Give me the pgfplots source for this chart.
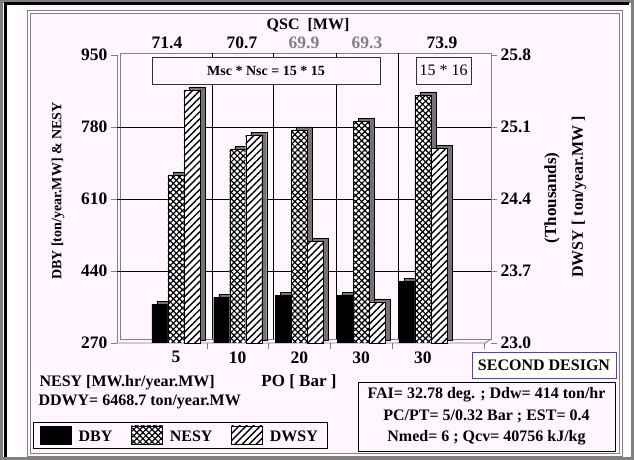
\documentclass[border=0pt]{standalone}
\usepackage{fontspec}
\setmainfont{Liberation Serif}
\usepackage{pgfplots}
\usepackage{pgfplotstable}
\pgfplotsset{compat=1.18}
\usetikzlibrary{patterns,patterns.meta}

\definecolor{panel}{RGB}{255,246,255}
\definecolor{frameg}{RGB}{128,128,128}
\definecolor{sidegray}{RGB}{115,115,115}
\definecolor{blueb}{RGB}{70,70,200}

\pgfplotstableread{
x DBY NESY DWSY
0 362 667 25.46
1 378 727 25.02
2 382 773 23.99
3 382 794 23.40
4 416 856 24.89
}\datatable

\tikzset{
  dbystyle/.style={draw=black, fill=black},
  nesystyle/.style={draw=black, preaction={fill=white}, pattern={Hatch[angle=45,distance=4.3pt,line width=1.2pt]}},
  dwsystyle/.style={draw=black, preaction={fill=white}, pattern={Lines[angle=45,distance=5pt,line width=1.4pt]}},
  sidestyle/.style={draw=black, fill=sidegray, line width=0.4pt},
}
\pgfplotsset{
  legsw/.style={legend image code/.code={\draw[##1] (0pt,-7pt) rectangle (31pt,11pt);}},
}
\newcommand{\bfs}{\fontsize{16}{16}\selectfont\bfseries}
\newcommand{\bft}{\fontsize{17.5}{17.5}\selectfont\bfseries}

\begin{document}
\begin{tikzpicture}[x=1pt,y=1pt]
% background and frames
\fill[white] (0,0) rectangle (634,460);
\fill[panel] (23,2) rectangle (625,455);
\draw[frameg, line width=3pt] (1.5,1.5) rectangle (632.5,458.5);
\draw[black, line width=3pt] (5.5,3) -- (5.5,456.5) -- (629,456.5);
\draw[frameg, line width=0.8pt] (27,4) rectangle (622,450);
\draw[frameg, line width=0.8pt] (30,7) rectangle (619,447);
% back wall, floor and grid
\draw[frameg, line width=0.8pt] (117,117) -- (117,405);
\draw[frameg, line width=0.8pt] (120,121) -- (120,407) -- (491,407) -- (491,121) -- cycle;
\draw[frameg, line width=0.8pt] (117,117) -- (485,117) -- (491,121);
\foreach \yy in {189,261,333} \draw[black, line width=0.6pt] (117,\yy) -- (491,\yy);
\foreach \xx in {212,273,336,398} \draw[black, line width=0.6pt] (\xx,121) -- (\xx,407);
% boxes inside plot
\draw[black!80, fill=panel] (152,376) rectangle (380,403);
\node[font=\fontsize{14}{14}\selectfont\bfseries] at (266,389.5) {Msc * Nsc = 15 * 15};
\draw[black!80, fill=panel] (416,376) rectangle (471,403);
\node[font=\fontsize{16}{16}\selectfont] at (443.5,389.5) {15 * 16};

\begin{axis}[
  at={(117pt,117pt)}, anchor=south west,
  scale only axis, width=371pt, height=288pt,
  xmin=-0.955, xmax=5.053, ymin=270, ymax=950,
  axis line style={draw=none},
  ybar, bar width=16pt,
  ytick={270,440,610,780,950}, ytick pos=left,
  yticklabels={\textbf{270},\textbf{440},\textbf{610},\textbf{780},\textbf{950}},
  xtick={0.5,1.5,2.5,3.5,5}, xticklabels={}, xtick pos=bottom,
  extra x ticks={0,1,2,3,4},
  extra x tick labels={\textbf{5},\textbf{10},\textbf{20},\textbf{30},\textbf{30}},
  extra x tick style={major tick length=0pt},
  tick align=outside, major tick length=6pt,
  tick style={frameg, line width=0.6pt},
  ticklabel style={font=\bft},
  x tick label style={yshift=-5pt},
]
\addplot[sidestyle, bar shift=-11pt, yshift=3pt, forget plot] table[x=x,y=DBY]{\datatable};
\addplot[dbystyle, bar shift=-16pt] table[x=x,y=DBY]{\datatable};
\addplot[sidestyle, bar shift=5pt, yshift=3pt, forget plot] table[x=x,y=NESY]{\datatable};
\addplot[nesystyle, bar shift=0pt] table[x=x,y=NESY]{\datatable};
\end{axis}

\begin{axis}[
  at={(117pt,117pt)}, anchor=south west,
  scale only axis, width=374pt, height=288pt,
  xmin=-0.955, xmax=5.101, ymin=23, ymax=25.8,
  hide x axis, axis line style={draw=none},
  ybar, bar width=16pt,
  ytick={23,23.7,24.4,25.1,25.8}, ytick pos=right,
  yticklabels={\textbf{23.0},\textbf{23.7},\textbf{24.4},\textbf{25.1},\textbf{25.8}},
  tick align=outside, major tick length=6pt,
  tick style={frameg, line width=0.6pt},
  yticklabel style={font=\bft},
  legend style={at={(-0.2246,-0.3646)}, anchor=south west, draw=black, fill=none,
    font=\bfs, legend columns=3, inner xsep=7pt, inner ysep=3pt,
    /tikz/every odd column/.append style={column sep=5pt},
    /tikz/every even column/.append style={column sep=17pt}},
  legend cell align=left,
]
\addlegendimage{dbystyle, legsw}
\addlegendimage{nesystyle, legsw}
\addplot[sidestyle, bar shift=21pt, yshift=3pt, forget plot] table[x=x,y=DWSY]{\datatable};
\addplot[dwsystyle, bar shift=16pt, legsw] table[x=x,y=DWSY]{\datatable};
\legend{DBY,NESY,DWSY}
\end{axis}

% axis titles and annotations
\node[font=\bfs] at (308,435) {QSC\ \ [MW]};
\node[font=\bft] at (167,417) {71.4};
\node[font=\bft] at (242,417) {70.7};
\node[font=\bft, text=frameg] at (304,417) {69.9};
\node[font=\bft, text=frameg] at (367,417) {69.3};
\node[font=\bft] at (442,417) {73.9};
\node[font=\fontsize{14}{14}\selectfont\bfseries, rotate=90] at (58,269) {DBY [ton/year.MW] \& NESY};
\node[font=\fontsize{17}{17}\selectfont\bfseries, rotate=90] at (552,262) {(Thousands)};
\node[font=\bfs, rotate=90] at (579,263) {DWSY [ ton/year.MW ]};
\node[font=\fontsize{17}{17}\selectfont\bfseries] at (299,78) {PO [ Bar ]};
\draw[blueb, line width=0.8pt, fill=white] (472,82) rectangle (616,108);
\node[font=\bfs] at (544,95) {SECOND DESIGN};
\node[font=\bfs, anchor=west] at (36,77) {NESY [MW.hr/year.MW]};
\node[font=\bfs, anchor=west] at (35,58) {DDWY= 6468.7 ton/year.MW};
\draw[black, line width=0.8pt] (358,9) rectangle (615,78);
\node[font=\bfs] at (486.5,65) {FAI= 32.78 deg. ; Ddw= 414 ton/hr};
\node[font=\bfs] at (486.5,44) {PC/PT= 5/0.32 Bar ; EST= 0.4};
\node[font=\bfs] at (486.5,22) {Nmed= 6 ; Qcv= 40756 kJ/kg};
\pgfresetboundingbox
\path[use as bounding box] (0,0) rectangle (634,460);
\end{tikzpicture}
\end{document}
